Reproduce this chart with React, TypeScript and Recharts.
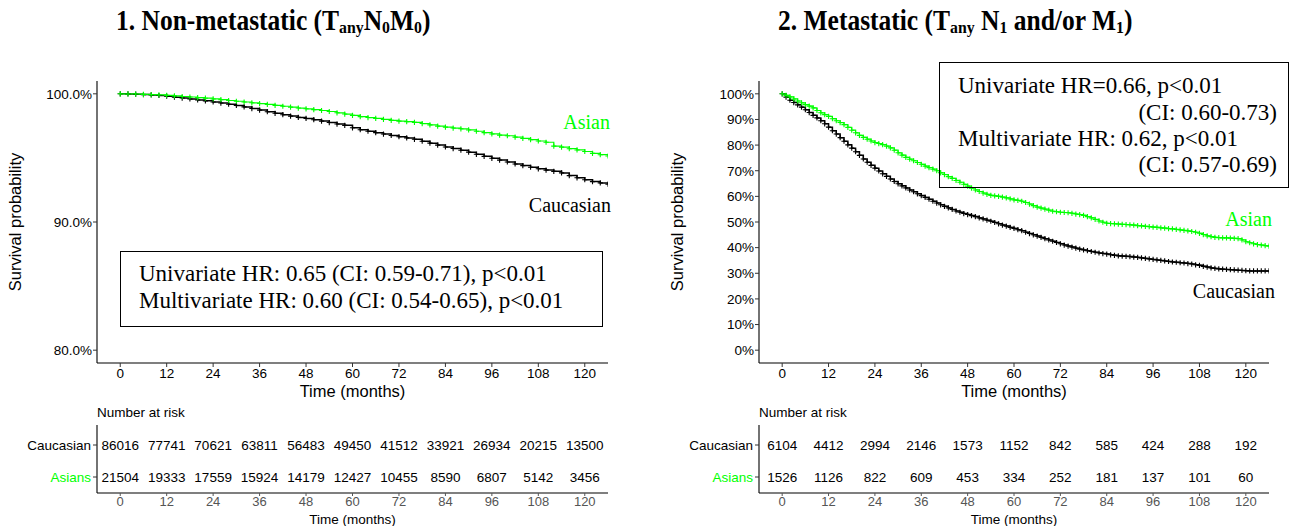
import React from "react";
import { LineChart, Line, XAxis, YAxis, ScatterChart, Scatter, Label } from "recharts";

const SANS = "'Liberation Sans', Arial, sans-serif";
const SERIF = "'Liberation Serif', 'Times New Roman', serif";
const GREEN = "#00ff00";

// non-metastatic curves, read every 2 months
const monthsNonMet = [
  0, 2, 4, 6, 8, 10, 12, 14, 16, 18, 20, 22, 24, 26, 28, 30,
  32, 34, 36, 38, 40, 42, 44, 46, 48, 50, 52, 54, 56, 58, 60, 62,
  64, 66, 68, 70, 72, 74, 76, 78, 80, 82, 84, 86, 88, 90, 92, 94,
  96, 98, 100, 102, 104, 106, 108, 110, 112, 114, 116, 118, 120, 122, 124, 126,
];
const caucNonMet = [
  100, 99.99, 99.97, 99.94, 99.91, 99.87, 99.82, 99.74,
  99.67, 99.6, 99.52, 99.45, 99.36, 99.28, 99.19, 99.09,
  98.98, 98.85, 98.73, 98.6, 98.48, 98.37, 98.26, 98.16,
  98.08, 97.98, 97.87, 97.76, 97.64, 97.54, 97.35, 97.2,
  97.08, 96.97, 96.86, 96.75, 96.65, 96.56, 96.45, 96.3,
  96.15, 96.0, 95.85, 95.73, 95.6, 95.45, 95.28, 95.12,
  94.97, 94.83, 94.68, 94.53, 94.4, 94.27, 94.15, 94.05,
  93.95, 93.83, 93.62, 93.45, 93.3, 93.15, 93.05, 92.95,
];
const asianNonMet = [
  100, 99.99, 99.98, 99.96, 99.94, 99.91, 99.88, 99.84,
  99.79, 99.75, 99.7, 99.66, 99.6, 99.55, 99.48, 99.42,
  99.36, 99.3, 99.24, 99.17, 99.1, 99.03, 98.96, 98.89,
  98.83, 98.77, 98.7, 98.62, 98.52, 98.42, 98.32, 98.22,
  98.15, 98.08, 98.0, 97.93, 97.87, 97.83, 97.77, 97.68,
  97.58, 97.48, 97.4, 97.33, 97.27, 97.18, 97.08, 96.97,
  96.87, 96.78, 96.73, 96.62, 96.52, 96.42, 96.32, 96.22,
  95.92, 95.84, 95.72, 95.62, 95.5, 95.35, 95.25, 95.15,
];

// metastatic curves, read every month
const monthsMet = [
  0, 1, 2, 3, 4, 5, 6, 7, 8, 9, 10, 11, 12, 13, 14, 15,
  16, 17, 18, 19, 20, 21, 22, 23, 24, 25, 26, 27, 28, 29, 30, 31,
  32, 33, 34, 35, 36, 37, 38, 39, 40, 41, 42, 43, 44, 45, 46, 47,
  48, 49, 50, 51, 52, 53, 54, 55, 56, 57, 58, 59, 60, 61, 62, 63,
  64, 65, 66, 67, 68, 69, 70, 71, 72, 73, 74, 75, 76, 77, 78, 79,
  80, 81, 82, 83, 84, 85, 86, 87, 88, 89, 90, 91, 92, 93, 94, 95,
  96, 97, 98, 99, 100, 101, 102, 103, 104, 105, 106, 107, 108, 109, 110, 111,
  112, 113, 114, 115, 116, 117, 118, 119, 120, 121, 122, 123, 124, 125, 126,
];
const caucMet = [
  100, 98.7, 97.5, 96.6, 95.7, 94.8, 93.8, 92.7, 91.6, 90.6, 89.5, 88.3, 87.0, 85.6, 84.3, 82.9,
  81.5, 80.1, 78.8, 77.4, 76.0, 74.6, 73.3, 72.1, 71.0, 69.9, 68.8, 67.8, 66.8, 65.8, 64.9, 64.1,
  63.3, 62.5, 61.8, 61.0, 60.3, 59.6, 58.9, 58.1, 57.4, 56.7, 56.1, 55.5, 54.9, 54.3, 53.8, 53.3,
  52.9, 52.5, 52.1, 51.6, 51.2, 50.7, 50.3, 49.8, 49.3, 48.8, 48.4, 47.9, 47.5, 47.0, 46.6, 46.0,
  45.5, 45.0, 44.5, 44.0, 43.5, 43.0, 42.5, 42.0, 41.5, 41.0, 40.6, 40.2, 39.8, 39.4, 39.1, 38.8,
  38.5, 38.2, 37.9, 37.7, 37.5, 37.2, 37.0, 36.8, 36.7, 36.6, 36.5, 36.3, 36.2, 36.0, 35.8, 35.6,
  35.4, 35.2, 35.0, 34.8, 34.6, 34.4, 34.3, 34.1, 34.0, 33.8, 33.6, 33.3, 33.1, 32.7, 32.4, 32.1,
  31.9, 31.7, 31.6, 31.5, 31.4, 31.3, 31.2, 31.1, 31.0, 30.9, 30.9, 30.9, 30.9, 30.9, 30.9,
];
const asianMet = [
  100, 99.4, 98.8, 98.0, 97.2, 96.5, 95.8, 95.2, 94.5, 93.5, 92.6, 91.9, 91.2, 90.3, 89.5, 88.8,
  88.0, 86.9, 85.8, 84.8, 83.8, 83.0, 82.3, 81.6, 81.0, 80.6, 80.2, 79.6, 78.9, 78.0, 77.0, 76.1,
  75.2, 74.5, 73.9, 73.2, 72.5, 71.8, 71.2, 70.6, 70.0, 69.2, 68.5, 67.7, 67.0, 66.2, 65.5, 64.7,
  64.0, 63.2, 62.5, 61.9, 61.3, 60.8, 60.4, 60.2, 60.0, 59.7, 59.4, 59.0, 58.6, 58.4, 58.1, 57.6,
  57.0, 56.4, 55.8, 55.4, 55.0, 54.6, 54.2, 54.0, 53.8, 53.7, 53.6, 53.4, 53.1, 52.9, 52.6, 52.1,
  51.6, 51.0, 50.4, 49.9, 49.5, 49.4, 49.3, 49.2, 49.1, 49.0, 48.9, 48.8, 48.6, 48.5, 48.3, 48.2,
  48.0, 47.9, 47.7, 47.6, 47.4, 47.3, 47.1, 46.9, 46.7, 46.5, 46.3, 46.0, 45.6, 45.1, 44.6, 44.3,
  44.0, 43.9, 43.8, 43.8, 43.7, 43.6, 43.5, 43.0, 42.3, 41.9, 41.5, 41.2, 41.0, 40.8, 40.6,
];

// numbers at risk
const timeTicks = [0, 12, 24, 36, 48, 60, 72, 84, 96, 108, 120];
const riskCaucNonMet = [86016, 77741, 70621, 63811, 56483, 49450, 41512, 33921, 26934, 20215, 13500];
const riskAsianNonMet = [21504, 19333, 17559, 15924, 14179, 12427, 10455, 8590, 6807, 5142, 3456];
const riskCaucMet = [6104, 4412, 2994, 2146, 1573, 1152, 842, 585, 424, 288, 192];
const riskAsianMet = [1526, 1126, 822, 609, 453, 334, 252, 181, 137, 101, 60];

const yTicksNonMet = [80, 90, 100];
const yTicksMet = [0, 10, 20, 30, 40, 50, 60, 70, 80, 90, 100];

const nonMetData = monthsNonMet.map((t, i) => ({ t, cauc: caucNonMet[i], asian: asianNonMet[i] }));
const metData = monthsMet.map((t, i) => ({ t, cauc: caucMet[i], asian: asianMet[i] }));

function plusDot(color: string, r: number, sw: number) {
  return (p: any) => {
    const { cx, cy, index } = p;
    if (cx == null || cy == null) return <g key={`d${index}`} />;
    return (
      <path key={`d${index}`} d={`M${cx - r},${cy}H${cx + r}M${cx},${cy - r}V${cy + r}`}
            stroke={color} strokeWidth={sw} fill="none" />
    );
  };
}

function KMChart({ data, width, yw, right, domain, ticks, fmt, yLabelOffset }: any) {
  return (
    <LineChart width={width} height={400} data={data} margin={{ top: 81, right, bottom: 0, left: 0 }}>
      <XAxis dataKey="t" type="number" domain={[-6, 126]} ticks={timeTicks} allowDataOverflow interval={0}
             height={37} tickSize={4} tickMargin={1} axisLine={{ stroke: "#000", strokeWidth: 1.1 }}
             tickLine={{ stroke: "#333" }} tick={{ fill: "#000", fontSize: 13.5, fontFamily: SANS }}>
        <Label value="Time (months)" position="insideBottom" offset={3} fontSize={16.5} fill="#000" fontFamily={SANS} />
      </XAxis>
      <YAxis type="number" domain={domain} ticks={ticks} allowDataOverflow interval={0} width={yw}
             tickFormatter={fmt} tickSize={4} tickMargin={1} axisLine={{ stroke: "#000", strokeWidth: 1.1 }}
             tickLine={{ stroke: "#333" }} tick={{ fill: "#000", fontSize: 13.5, fontFamily: SANS }}>
        <Label value="Survival probability" angle={-90} position="insideLeft" offset={yLabelOffset}
               fontSize={16.5} fill="#000" fontFamily={SANS} style={{ textAnchor: "middle" }} />
      </YAxis>
      <Line dataKey="cauc" type="stepAfter" stroke="#000" strokeWidth={1.5}
            dot={plusDot("#000", 2.6, 1.1)} isAnimationActive={false} />
      <Line dataKey="asian" type="stepAfter" stroke={GREEN} strokeWidth={1.2}
            dot={plusDot(GREEN, 2.6, 1.1)} isAnimationActive={false} />
    </LineChart>
  );
}

const riskGroups = [
  { y: 1, name: "Asians", color: GREEN },
  { y: 2, name: "Caucasian", color: "#000" },
];

function RiskTick(p: any) {
  const g = riskGroups.find((r) => r.y === p.payload.value);
  return (
    <text x={p.x} y={p.y} dy="0.355em" textAnchor="end" fill={g?.color} fontSize={13.5} fontFamily={SANS}>
      {g?.name}
    </text>
  );
}

function numberShape(p: any) {
  return (
    <text x={p.cx} y={p.cy} dy="0.355em" textAnchor="middle" fontSize={13.5} fontFamily={SANS} fill="#000">
      {p.payload.n}
    </text>
  );
}

function RiskTable({ cauc, asian, width, yw, right }: any) {
  const cData = timeTicks.map((x, i) => ({ x, y: 2, n: cauc[i] }));
  const aData = timeTicks.map((x, i) => ({ x, y: 1, n: asian[i] }));
  return (
    <ScatterChart width={width} height={126} margin={{ top: 25, right, bottom: 0, left: 0 }}>
      <XAxis dataKey="x" type="number" domain={[-6, 126]} ticks={timeTicks} allowDataOverflow interval={0}
             height={33} tickSize={3} tickMargin={1} axisLine={{ stroke: "#000", strokeWidth: 1.1 }}
             tickLine={{ stroke: "#555" }} tick={{ fill: "#555", fontSize: 13, fontFamily: SANS }}>
        <Label value="Time (months)" position="insideBottom" offset={2} fontSize={13.5} fill="#000" fontFamily={SANS} />
      </XAxis>
      <YAxis dataKey="y" type="number" domain={[0.5, 2.625]} ticks={[1, 2]} allowDataOverflow interval={0}
             width={yw} tickSize={4} tickMargin={2} axisLine={{ stroke: "#000", strokeWidth: 1.1 }}
             tickLine={{ stroke: "#333" }} tick={<RiskTick />} />
      <Scatter data={cData} shape={numberShape} isAnimationActive={false} />
      <Scatter data={aData} shape={numberShape} isAnimationActive={false} />
    </ScatterChart>
  );
}

const abs = (left: number, top: number, extra: any = {}) => ({
  position: "absolute" as const, left, top, whiteSpace: "nowrap" as const, ...extra,
});
const sub: React.CSSProperties = { fontSize: "0.62em", verticalAlign: "-0.18em" };
const serifText = { fontFamily: SERIF, fontSize: 23, lineHeight: "23px", color: "#000" };
const curveLabel = { fontFamily: SERIF, fontSize: 20, lineHeight: "20px" };
const titleStyle = {
  fontFamily: SERIF, fontWeight: 700, fontSize: 25.5, lineHeight: "26px",
  transform: "scaleY(1.12)", transformOrigin: "0 50%",
};

export default function App() {
  return (
    <div style={{ position: "relative", width: 1291, height: 526, background: "#fff", overflow: "hidden" }}>
      <style>{"body{margin:0}"}</style>

      <div style={abs(0, 0)}>
        <KMChart data={nonMetData} width={640} yw={97} right={32} domain={[79, 101]} ticks={yTicksNonMet}
                 fmt={(v: number) => v.toFixed(1) + "%"} yLabelOffset={15} />
      </div>
      <div style={abs(640, 0)}>
        <KMChart data={metData} width={651} yw={119} right={22} domain={[-5, 105]} ticks={yTicksMet}
                 fmt={(v: number) => v + "%"} yLabelOffset={37} />
      </div>
      <div style={abs(0, 400)}>
        <RiskTable cauc={riskCaucNonMet} asian={riskAsianNonMet} width={640} yw={97} right={32} />
      </div>
      <div style={abs(640, 400)}>
        <RiskTable cauc={riskCaucMet} asian={riskAsianMet} width={651} yw={119} right={22} />
      </div>

      {/* titles */}
      <div style={abs(116, 8, titleStyle)}>
        1. Non-metastatic (T<span style={sub}>any</span>N<span style={sub}>0</span>M<span style={sub}>0</span>)
      </div>
      <div style={abs(778, 8, titleStyle)}>
        2. Metastatic (T<span style={sub}>any</span> N<span style={sub}>1</span> and/or M<span style={sub}>1</span>)
      </div>

      <div style={abs(97, 406, { fontFamily: SANS, fontSize: 13.5, lineHeight: "13.5px" })}>Number at risk</div>
      <div style={abs(759, 406, { fontFamily: SANS, fontSize: 13.5, lineHeight: "13.5px" })}>Number at risk</div>

      {/* panel 1 annotation */}
      <div style={abs(120, 251, { width: 483, height: 76, border: "1.5px solid #000", boxSizing: "border-box" })} />
      <div style={abs(139, 262, serifText)}>Univariate HR: 0.65 (CI: 0.59-0.71), p&lt;0.01</div>
      <div style={abs(139, 288.5, serifText)}>Multivariate HR: 0.60 (CI: 0.54-0.65), p&lt;0.01</div>

      {/* panel 2 annotation */}
      <div style={abs(939, 62, { width: 350, height: 126, border: "1.5px solid #000", boxSizing: "border-box" })} />
      <div style={abs(958, 74, serifText)}>Univariate HR=0.66, p&lt;0.01</div>
      <div style={{ ...abs(0, 100.5, serifText), left: "auto", right: 1291 - 1277 }}>(CI: 0.60-0.73)</div>
      <div style={abs(958, 127, serifText)}>Multivariate HR: 0.62, p&lt;0.01</div>
      <div style={{ ...abs(0, 152.5, serifText), left: "auto", right: 1291 - 1277 }}>(CI: 0.57-0.69)</div>

      {/* curve labels */}
      <div style={{ ...abs(0, 111.5, curveLabel), color: GREEN, left: "auto", right: 1291 - 610 }}>Asian</div>
      <div style={{ ...abs(0, 195, curveLabel), color: "#000", left: "auto", right: 1291 - 611 }}>Caucasian</div>
      <div style={{ ...abs(0, 209, curveLabel), color: GREEN, left: "auto", right: 1291 - 1272 }}>Asian</div>
      <div style={{ ...abs(0, 281, curveLabel), color: "#000", left: "auto", right: 1291 - 1275 }}>Caucasian</div>
    </div>
  );
}
